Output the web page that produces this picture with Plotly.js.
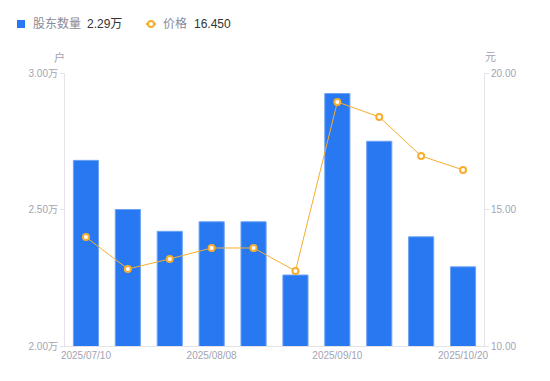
<!DOCTYPE html>
<html>
<head>
<meta charset="utf-8">
<script src="https://cdn.plot.ly/plotly-3.0.1.min.js"></script>
<style>html,body{margin:0;padding:0;background:#fff;}#chart{width:550px;height:381px;}</style>
</head>
<body>
<div id="chart"></div>
<script>
const dates = ["2025/07/10","2025/07/20","2025/07/31","2025/08/08","2025/08/20","2025/08/31","2025/09/10","2025/09/19","2025/09/30","2025/10/20"];
const holders = [26800, 25000, 24200, 24550, 24550, 22600, 29250, 27500, 24000, 22900];
const prices = [13.99, 12.82, 13.19, 13.59, 13.59, 12.75, 18.94, 18.39, 16.96, 16.45];
const xTickDates = ["2025/07/10","2025/08/08","2025/09/10","2025/10/20"];
const leftTickVals = [20000, 25000, 30000];
const leftTickText = ["2.00万","2.50万","3.00万"];
const rightTickVals = [10, 15, 20];
const rightTickText = ["10.00","15.00","20.00"];

const FONT = "'Liberation Sans', Arial, 'Noto Sans CJK SC', sans-serif";
const BLUE = "#2878f2";
const ORANGE = "#f7ad2f";
const AXIS = "#e3e3e8";
const TICKC = "#a3a3b3";

const L = 65, R = 484, T = 73, B = 346;
const px = x => (x - L) / (R - L);
const py = y => (B - y) / (B - T);

const lastHolder = (holders[holders.length-1]/10000).toFixed(2) + "万";
const lastPrice = prices[prices.length-1].toFixed(3);

const traces = [
  {type:'bar', x:dates, y:holders, yaxis:'y', marker:{color:BLUE, line:{color:'#6ea3f5', width:1}}, width:0.6, hoverinfo:'skip', showlegend:false},
  {type:'scatter', mode:'lines+markers', x:dates, y:prices, yaxis:'y2', line:{color:ORANGE, width:1}, marker:{symbol:'circle', size:6, color:'#fff', line:{color:ORANGE, width:2}}, hoverinfo:'skip', showlegend:false}
];

const ann = (x, y, text, color, anchor) => ({xref:'paper', yref:'paper', x:px(x), y:py(y), text:text, showarrow:false, xanchor:anchor||'left', yanchor:'middle', font:{family:FONT, size:12, color:color}});

const layout = {
  width:550, height:381,
  margin:{l:L, r:550-R, t:T, b:381-B, pad:0, autoexpand:false},
  paper_bgcolor:'#fff', plot_bgcolor:'#fff',
  font:{family:FONT, size:10, color:TICKC},
  showlegend:false,
  xaxis:{type:'category', range:[-0.5, dates.length - 0.5], automargin:false, tickmode:'array', tickvals:xTickDates, ticktext:xTickDates, showgrid:false, zeroline:false, showline:true, linecolor:AXIS, linewidth:1, ticks:'', tickfont:{size:10, color:TICKC}, fixedrange:true},
  yaxis:{range:[20000,30000], automargin:false, tickmode:'array', tickvals:leftTickVals, ticktext:leftTickText, showgrid:false, zeroline:false, showline:true, linecolor:AXIS, ticks:'outside', ticklen:4, tickcolor:AXIS, tickfont:{size:10, color:TICKC}, fixedrange:true},
  yaxis2:{overlaying:'y', side:'right', automargin:false, range:[10,20], tickmode:'array', tickvals:rightTickVals, ticktext:rightTickText, showgrid:false, zeroline:false, showline:true, linecolor:AXIS, ticks:'outside', ticklen:4, tickcolor:AXIS, tickfont:{size:10, color:TICKC}, fixedrange:true},
  shapes:[
    {type:'rect', xref:'paper', yref:'paper', x0:px(17), x1:px(25), y0:py(28), y1:py(20), fillcolor:BLUE, line:{width:0}},
    {type:'line', xref:'paper', yref:'paper', x0:px(146), x1:px(156), y0:py(24), y1:py(24), line:{color:ORANGE, width:2}},
    {type:'circle', xref:'paper', yref:'paper', x0:px(148), x1:px(154), y0:py(27), y1:py(21), fillcolor:'#fff', line:{color:ORANGE, width:2}}
  ],
  annotations:[
    ann(31, 24, "股东数量", "#8a8a99"),
    ann(85, 24, lastHolder, "#333"),
    ann(161, 24, "价格", "#8a8a99"),
    ann(192, 24, lastPrice, "#333"),
    {xref:'paper', yref:'paper', x:px(59), y:py(57), text:"户", showarrow:false, xanchor:'center', yanchor:'middle', font:{family:FONT, size:11, color:TICKC}},
    {xref:'paper', yref:'paper', x:px(490), y:py(57), text:"元", showarrow:false, xanchor:'center', yanchor:'middle', font:{family:FONT, size:11, color:TICKC}}
  ]
};

Plotly.newPlot('chart', traces, layout, {staticPlot:true, displayModeBar:false});
</script>
</body>
</html>
